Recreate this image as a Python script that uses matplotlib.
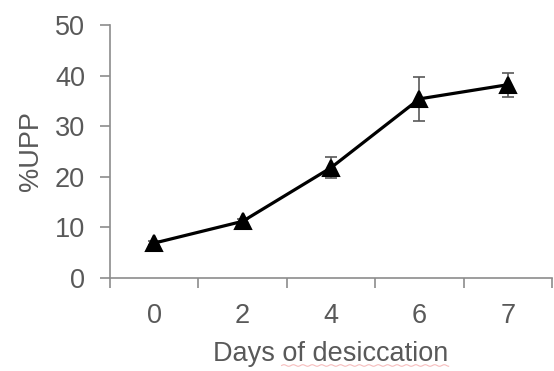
import matplotlib.pyplot as plt
import numpy as np

plt.rcParams['font.family'] = ['Liberation Sans', 'DejaVu Sans']

days = ['0', '2', '4', '6', '7']
upp = [6.9, 11.2, 21.8, 35.4, 38.2]
upp_err = [0.4, 0.5, 2.1, 4.3, 2.4]

grey = '#595959'
axis_grey = '#8c8c8c'
fs = 19.5

fig = plt.figure(figsize=(5.54, 3.71), dpi=100)
ax = fig.add_axes([0.1986, 0.2507, 0.7978, 0.6819])

x = np.arange(len(days))
ax.errorbar(x, upp, yerr=upp_err, fmt='none', ecolor=grey, elinewidth=1.2,
            capsize=4, capthick=1.2, zorder=2)
ax.plot(x, upp, color='black', lw=2.3, marker='^', markersize=11.5,
        markeredgewidth=1.5, zorder=3)

ax.set_xlim(-0.5, len(days) - 0.5)
ax.set_ylim(0, 50)
ax.set_yticks(range(0, 51, 10))
ax.set_xticks(x)
ax.set_xticklabels(days)
# category boundary ticks on the x axis
ax.set_xticks(np.arange(-0.5, len(days), 1), minor=True)
ax.tick_params(axis='x', which='major', length=0, pad=18, labelsize=fs, labelcolor=grey)
ax.tick_params(axis='x', which='minor', length=7, width=1.2, color=axis_grey, direction='out')
ax.tick_params(axis='y', length=7, width=1.2, color=axis_grey, labelsize=fs,
               labelcolor=grey, pad=11)

for side in ['top', 'right']:
    ax.spines[side].set_visible(False)
for side in ['left', 'bottom']:
    ax.spines[side].set_color(axis_grey)
    ax.spines[side].set_linewidth(1.2)

ax.set_ylabel('%UPP', fontsize=fs, color=grey, labelpad=8)
xl = ax.set_xlabel('Days of desiccation', fontsize=fs, color=grey, labelpad=9)

# faint wavy underline beneath "of desiccation"
fig.canvas.draw()
bb = xl.get_window_extent()
x0 = bb.x0 + bb.width * 0.29
x1 = bb.x1
ys = bb.y0 + 2
xs = np.linspace(x0, x1, 160)
ws = ys + 0.8 * np.sin((xs - x0) / 1.5)
fig.add_artist(plt.Line2D(xs / fig.bbox.width, ws / fig.bbox.height,
                          color='#f2a0a0', lw=0.8, alpha=0.7))

fig.savefig('out.png', dpi=100)
